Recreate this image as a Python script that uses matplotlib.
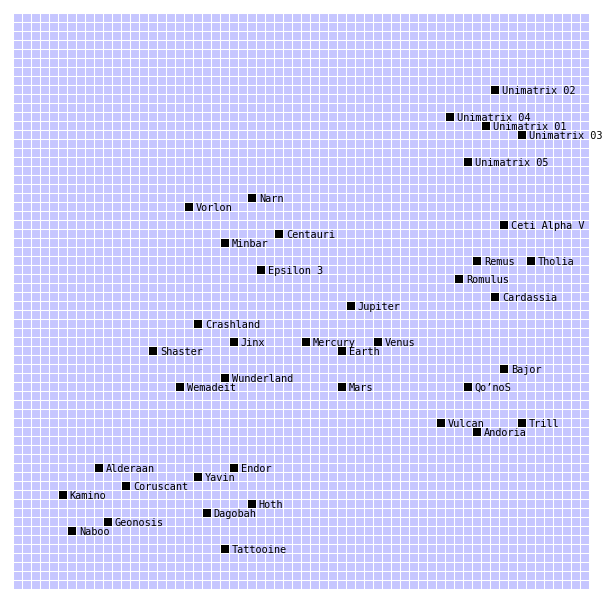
import matplotlib
matplotlib.use("Agg")
import matplotlib.pyplot as plt

# grid cell of each world (column from left, row from top) on a 64x64 map
names = ["Unimatrix 02", "Unimatrix 04", "Unimatrix 01", "Unimatrix 03", "Unimatrix 05",
         "Narn", "Vorlon", "Centauri", "Minbar", "Epsilon 3",
         "Ceti Alpha V", "Remus", "Tholia", "Romulus", "Cardassia",
         "Jupiter", "Crashland", "Jinx", "Mercury", "Venus", "Shaster", "Earth",
         "Bajor", "Wunderland", "Wemadeit", "Mars", "Qo\u2019noS",
         "Vulcan", "Trill", "Andoria",
         "Alderaan", "Endor", "Yavin", "Coruscant", "Kamino", "Hoth",
         "Dagobah", "Geonosis", "Naboo", "Tattooine"]
cols = [53, 48, 52, 56, 50,
        26, 19, 29, 23, 27,
        54, 51, 57, 49, 53,
        37, 20, 24, 32, 40, 15, 36,
        54, 23, 18, 36, 50,
        47, 56, 51,
        9, 24, 20, 12, 5, 26,
        21, 10, 6, 23]
rows = [8, 11, 12, 13, 16,
        20, 21, 24, 25, 28,
        23, 27, 27, 29, 31,
        32, 34, 36, 36, 36, 37, 37,
        39, 40, 41, 41, 41,
        45, 45, 46,
        50, 50, 51, 52, 53, 54,
        55, 56, 57, 59]
n_cells = 64

W, H = 613, 603
fig = plt.figure(figsize=(W / 100, H / 100), dpi=100)
ax = fig.add_axes([13 / W, (H - 589) / H, 576 / W, 576 / H])
ax.set_facecolor("#c6c6ff")
ax.set_xlim(0, n_cells)
ax.set_ylim(n_cells, 0)
ax.set_xticks(range(n_cells + 1))
ax.set_yticks(range(n_cells + 1))
ax.grid(True, color="white", linewidth=0.75)
ax.tick_params(length=0, labelbottom=False, labelleft=False)
ax.set_axisbelow(True)
for s in ax.spines.values():
    s.set_visible(False)

xs = [c + 0.5 for c in cols]
ys = [r + 0.5 for r in rows]
ax.plot(xs, ys, ls="none", marker="s", ms=5.8, mew=0, color="black")

for name, x, y in zip(names, xs, ys):
    ax.annotate(name, (x, y), xytext=(5.3, -2.9), textcoords="offset points",
                va="baseline", ha="left", fontsize=7.4,
                family="DejaVu Sans Mono", color="black")

fig.savefig("out.png", dpi=100)
